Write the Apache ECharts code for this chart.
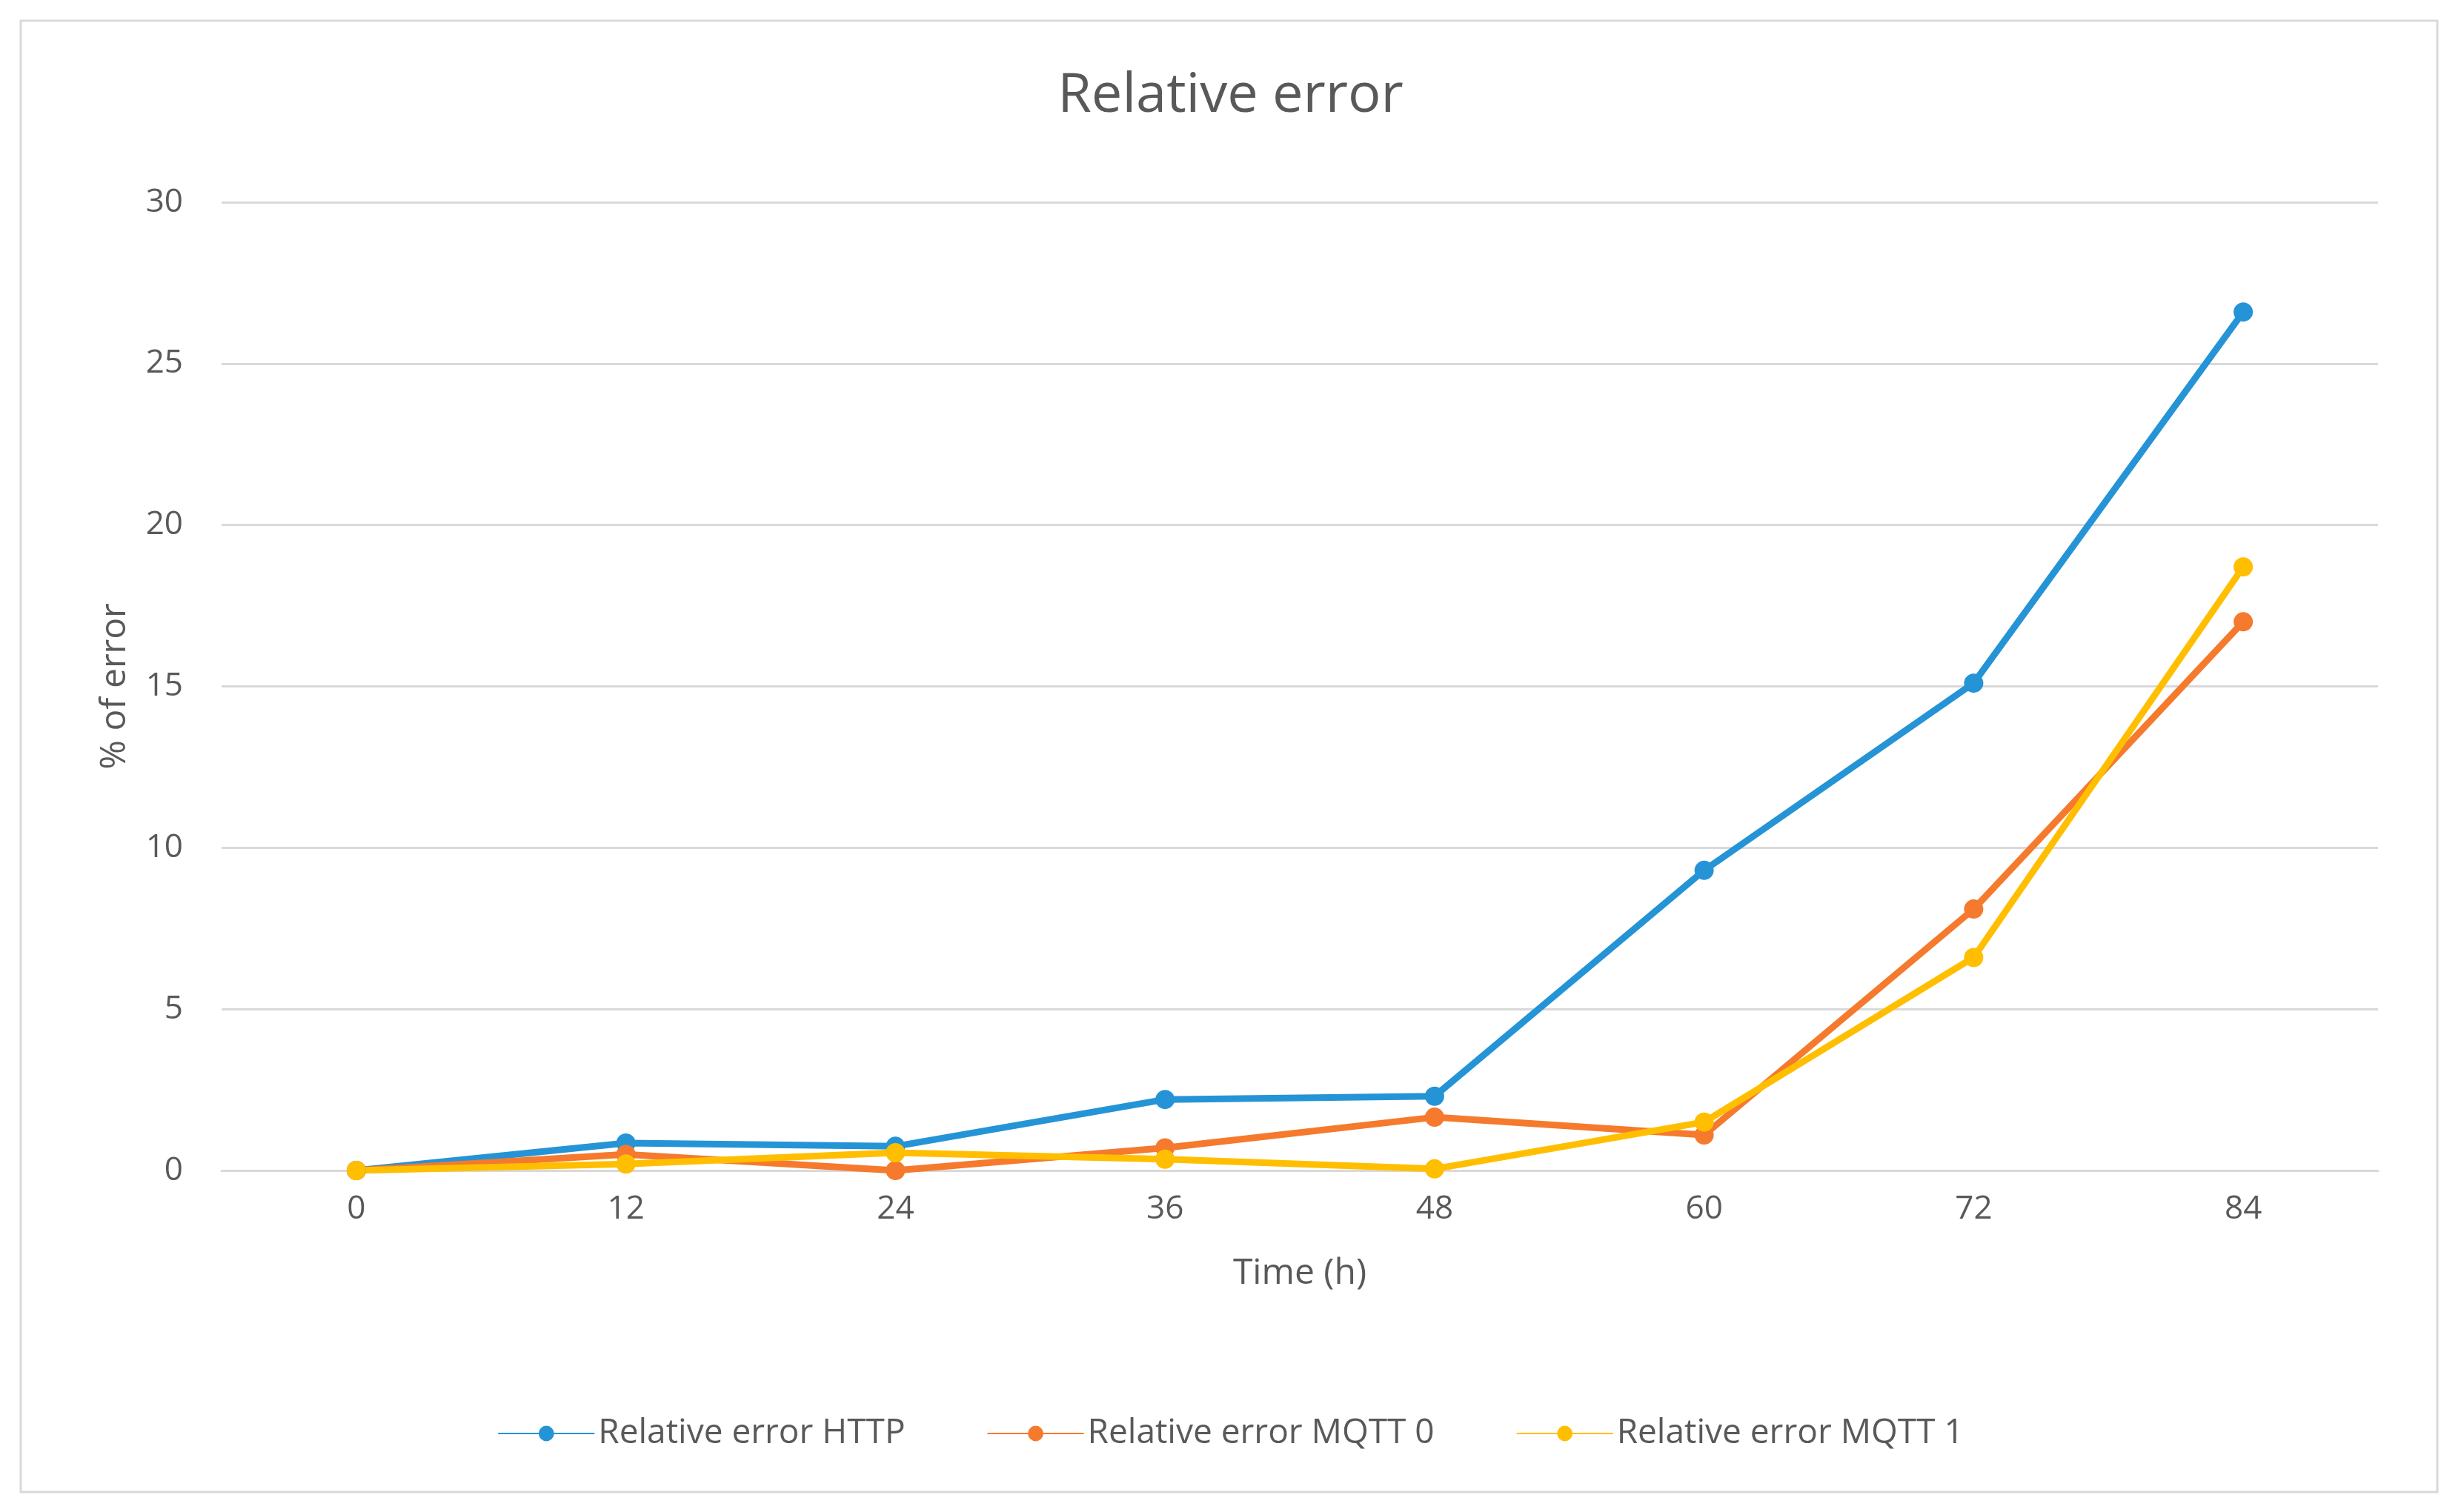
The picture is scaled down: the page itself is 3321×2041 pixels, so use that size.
<!DOCTYPE html>
<html><head><meta charset="utf-8">
<script src="https://cdn.jsdelivr.net/npm/echarts@6/dist/echarts.min.js"></script>
<style>html,body{margin:0;padding:0;background:#fff}#c{width:3321px;height:2041px}</style>
</head><body><div id="c"></div>
<script>
const categories = ['0','12','24','36','48','60','72','84'];
const httpErr = [0, 0.85, 0.75, 2.2, 2.3, 9.3, 15.1, 26.6];
const mqtt0Err = [0, 0.5, 0, 0.7, 1.65, 1.1, 8.1, 17.0];
const mqtt1Err = [0, 0.2, 0.55, 0.35, 0.05, 1.5, 6.6, 18.7];
const names = ['Relative error HTTP','Relative error MQTT 0','Relative error MQTT 1'];
const colors = ['#2594d6','#f57a2d','#ffbf00'];
const font = 'Open Sans';
const chart = echarts.init(document.getElementById('c'));
const mk = (n, d, c) => ({name:n, type:'line', data:d, symbol:'circle', symbolSize:26,
  lineStyle:{width:9,color:c}, itemStyle:{color:c}, animation:false});
chart.setOption({
  animation:false,
  graphic:[{type:'rect', shape:{x:28,y:28,width:3261,height:1986}, style:{fill:'none',stroke:'#d9d9d9',lineWidth:3}}],
  title:{text:'Relative error', left:'center', top:88, textStyle:{fontFamily:font,fontWeight:'normal',fontSize:74,color:'#595959'}},
  grid:{left:299, right:112, top:273, bottom:461},
  legend:{bottom:78, left:'center', itemWidth:130, itemHeight:26, itemGap:110,
    textStyle:{fontFamily:font,fontSize:46,color:'#595959'}, data:names},
  xAxis:{type:'category', data:categories, name:'Time (h)', nameLocation:'middle', nameGap:115,
    nameTextStyle:{fontFamily:font,fontSize:48,color:'#595959'},
    axisLine:{lineStyle:{color:'#d9d9d9',width:3}}, axisTick:{show:false},
    axisLabel:{fontFamily:font,fontSize:44,color:'#595959',margin:30}},
  yAxis:{type:'value', min:0, max:30, interval:5, name:'% of error', nameLocation:'middle', nameGap:120,
    nameTextStyle:{fontFamily:font,fontSize:48,color:'#595959'},
    axisLine:{show:false}, axisTick:{show:false},
    splitLine:{lineStyle:{color:'#d9d9d9',width:3}},
    axisLabel:{fontFamily:font,fontSize:44,color:'#595959',margin:52}},
  series:[mk(names[0],httpErr,colors[0]), mk(names[1],mqtt0Err,colors[1]), mk(names[2],mqtt1Err,colors[2])]
});
</script></body></html>
